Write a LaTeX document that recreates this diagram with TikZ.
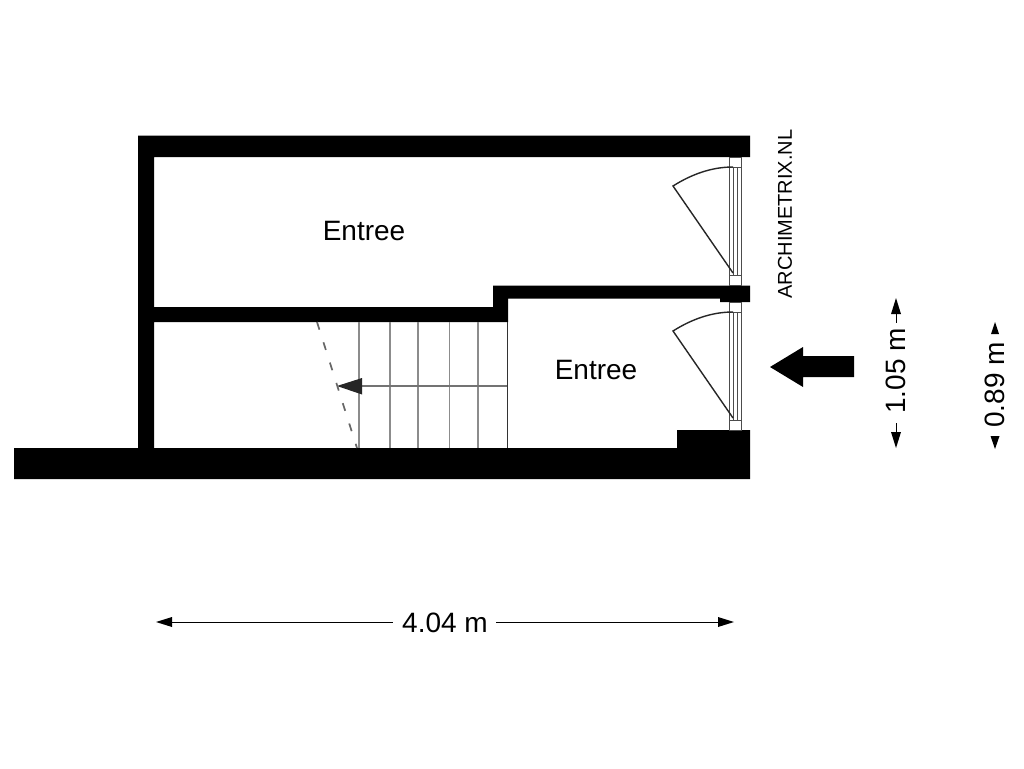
\documentclass[tikz,border=0pt]{standalone}
\usepackage{fontspec}
\setmainfont{Liberation Sans}
\usetikzlibrary{arrows.meta}

\begin{document}
\begin{tikzpicture}
[
x=1pt, y=-1pt,
wall/.style={fill=black, draw=none},
glass/.style={draw=black!70, line width=1pt},
leaf/.style={draw=black!85, line width=1.4pt},
tread/.style={draw=black!45, line width=1.4pt},
roomlabel/.style={font=\fontsize{28}{30}\selectfont, inner sep=0pt},
dimlabel/.style={font=\fontsize{28}{30}\selectfont, inner sep=0pt, fill=white},
dimline/.style={draw=black, line width=0.9pt},
dimtip/.style={fill=black, draw=none}
]
\useasboundingbox[fill=white] (0,0) rectangle (1024,768);

% walls
\fill[wall] (138,135.5) -- (750,135.5) -- (750,157) -- (154,157) -- (154,307) -- (493,307) -- (493,285.5)
	-- (750,285.5) -- (750,302) -- (720,302) -- (720,298.5) -- (508,298.5) -- (508,322) -- (154,322)
	-- (154,448) -- (677,448) -- (677,430) -- (750,430) -- (750,479) -- (14,479) -- (14,448) -- (138,448) -- cycle;

% windows
\foreach \ytop/\ybot in {157/285, 302/430}{
	\draw[glass] (729,\ytop) rectangle (741,\ybot);
	\draw[glass] (733,\ytop+10) -- (733,\ybot-10);
	\draw[glass] (737,\ytop+10) -- (737,\ybot-10);
	\draw[glass] (729,\ytop+10) -- (741,\ytop+10);
	\draw[glass] (729,\ybot-10) -- (741,\ybot-10);
}

% doors
\foreach \ytop in {167, 312}{
	\draw[leaf] (733,\ytop+106) -- (673,\ytop+19) .. controls (692,\ytop+7) and (712,\ytop) .. (733,\ytop);
}

% stairs
\foreach \xtread in {359,390,418,449.5,478}{
	\draw[tread] (\xtread,322) -- (\xtread,448);
}
\draw[draw=black!80, line width=1.4pt] (507.5,322) -- (507.5,448);
\draw[draw=black!55, line width=1.3pt] (507,386) -- (360,386);
\fill[black!85] (337,386) -- (362,378) -- (362,394.5) -- cycle;
\draw[draw=black!60, line width=1.7pt, dash pattern=on 8pt off 13.3pt] (317,322) -- (357,448);

% entrance arrow
\fill[wall] (770,367) -- (803,347) -- (803,356) -- (854,356) -- (854,377) -- (803,377) -- (803,387) -- cycle;

% labels
\node[roomlabel] (entreetop) at (364,231) {Entree};
\node[roomlabel] (entreebottom) at (596,370) {Entree};
\node[font=\fontsize{20}{22}\selectfont, inner sep=0pt, rotate=90] (watermark) at (785,214) {ARCHIMETRIX.NL};

% dimensions
\node[dimlabel] (dimwidth) at (445,623) {4.04 m};
\coordinate (widthleft) at (166,622);
\coordinate (widthright) at (724,622);
\draw[dimline] (widthleft) -- (393,622);
\draw[dimline] (496,622) -- (widthright);
\fill[dimtip] (156,622) -- (172,617) -- (172,627) -- cycle;
\fill[dimtip] (734,622) -- (718,617) -- (718,627) -- cycle;

\node[dimlabel, rotate=90] (dimdoor) at (896,371) {1.05 m};
\draw[dimline] (896,310) -- (896,323);
\draw[dimline] (896,423) -- (896,436);
\fill[dimtip] (896,298) -- (891,314) -- (901,314) -- cycle;
\fill[dimtip] (896,448) -- (891,432) -- (901,432) -- cycle;

\node[dimlabel, rotate=90] (dimwindow) at (995,385) {0.89 m};
\fill[dimtip] (995,322) -- (991,334) -- (999,334) -- cycle;
\fill[dimtip] (995,449) -- (990.5,436) -- (999.5,436) -- cycle;
\end{tikzpicture}
\end{document}
